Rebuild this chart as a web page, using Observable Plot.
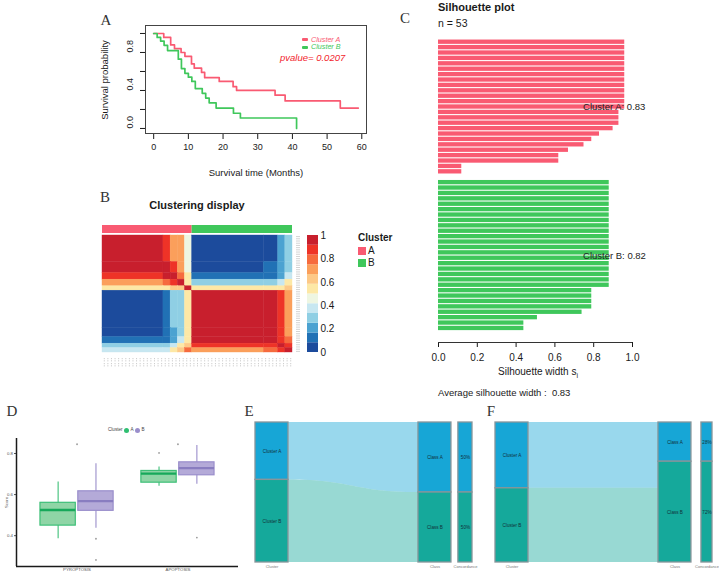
<!DOCTYPE html>
<html><head><meta charset="utf-8">
<script src="https://cdn.jsdelivr.net/npm/d3@7"></script>
<script src="https://cdn.jsdelivr.net/npm/@observablehq/plot@0.6"></script>
<style>
body{margin:0;background:#fff;}
#root{position:relative;width:719px;height:573px;overflow:hidden;background:#fff;font-family:"Liberation Sans",Arial,sans-serif;}
.t{position:absolute;white-space:pre;line-height:1;}
</style></head><body><div id="root"></div>
<script>
// ---------------- DATA ----------------
// Panel A: Kaplan-Meier survival
const survTimeA = [0, 2.9, 4.9, 6, 7.9, 9, 10.9, 11.7, 13.8, 14.7, 18.9, 22.9, 23.9, 35, 37.9, 53.8, 59];
const survProbA = [1, 0.958, 0.88, 0.84, 0.80, 0.76, 0.68, 0.635, 0.59, 0.535, 0.495, 0.44, 0.40, 0.35, 0.29, 0.215, 0.215];
const survTimeB = [0, 1, 2, 3, 4, 7.1, 8, 9, 10, 11, 12, 14, 15, 16, 18, 23, 25, 41.2];
const survProbB = [1, 0.958, 0.92, 0.875, 0.82, 0.73, 0.63, 0.58, 0.54, 0.495, 0.42, 0.37, 0.32, 0.27, 0.215, 0.16, 0.11, 0];
const survXTicks = [0, 10, 20, 30, 40, 50, 60];
const survYTicks = [0, 0.2, 0.4, 0.6, 0.8, 1];
const survYLabels = [0, 0.4, 0.8];
const pValue = "0.0207";

// Panel B: consensus heatmap (block structure)
const nSamples = 53;
const clusterSizes = [25, 28];
const hmColBreaks = [0, 17, 19, 21, 23, 25, 45, 49, 51, 53];
const hmRowBreaks = [0, 12, 17, 20, 23, 25, 42, 46, 49, 51, 53];
const hmBlockClass = [
  [11, 10, 8, 8, 5, 0, 0, 2, 3],
  [11, 11, 10, 8, 5, 0, 1, 2, 3],
  [10, 11, 11, 9, 6, 1, 1, 2, 4],
  [8, 9, 10, 11, 6, 3, 3, 4, 6],
  [6, 6, 7, 7, 11, 6, 6, 6, 7],
  [0, 1, 3, 3, 6, 11, 11, 10, 8],
  [0, 1, 2, 3, 6, 11, 11, 10, 8],
  [1, 1, 2, 4, 6, 11, 11, 10, 9],
  [3, 3, 4, 6, 7, 10, 10, 11, 10],
  [4, 4, 6, 7, 9, 8, 9, 10, 11]
];
const hmPalette = ["#1c4b9c","#2171b5","#4ba2d1","#8fcfe4","#c7e7f1","#eef6e2","#fde8a6","#fdc987","#fb9f5b","#f66b3e","#ee3327","#c81f2d"];
const colorbarTicks = [0, 0.2, 0.4, 0.6, 0.8, 1];

// Panel C: silhouette widths
const silA = [0.96,0.96,0.96,0.96,0.96,0.96,0.96,0.96,0.96,0.96,0.96,0.96,0.96,0.93,0.93,0.93,0.90,0.83,0.79,0.75,0.67,0.62,0.62,0.12,0.12];
const silB = [0.88,0.88,0.88,0.88,0.88,0.88,0.88,0.88,0.88,0.88,0.88,0.88,0.88,0.88,0.88,0.88,0.88,0.88,0.88,0.88,0.79,0.79,0.79,0.79,0.74,0.51,0.44,0.44];
const silClusterAvg = [0.83, 0.82];
const silOverall = "0.83";
const silXTicks = [0, 0.2, 0.4, 0.6, 0.8, 1];

// Panel D: boxplot summaries
const boxCategories = ["PYROPTOSIS", "APOPTOSIS"];
const boxCluster = ["A", "B", "A", "B"];
const boxCategory = ["PYROPTOSIS", "PYROPTOSIS", "APOPTOSIS", "APOPTOSIS"];
const boxLo  = [0.385, 0.436, 0.640, 0.650];
const boxQ1  = [0.449, 0.521, 0.658, 0.694];
const boxMed = [0.525, 0.568, 0.702, 0.729];
const boxQ3  = [0.560, 0.616, 0.715, 0.757];
const boxHi  = [0.661, 0.750, 0.734, 0.839];
const outCategory = ["PYROPTOSIS", "PYROPTOSIS", "APOPTOSIS", "APOPTOSIS", "PYROPTOSIS", "APOPTOSIS"];
const outCluster  = ["B", "B", "A", "B", null, null];
const outValue    = [0.385, 0.282, 0.803, 0.391, 0.845, 0.845];
const boxYTicks = [0.4, 0.6, 0.8];

// Panels E/F: alluvial
const alluvialAxes = ["Cluster", "Class", "Concordance"];
const eClusterPct = [41, 59], eClassPct = [50, 50], eFlowRightPct = [50, 50], eConcordLabels = ["50%", "50%"];
const fClusterPct = [47, 53], fClassPct = [28, 72], fFlowRightPct = [47, 53], fConcordLabels = ["28%", "72%"];

// ---------------- STYLE / LAYOUT ----------------
const W = 719, H = 573;
const FONT = '"Liberation Sans", Arial, Helvetica, sans-serif';
const SERIF = '"Liberation Serif", "Times New Roman", serif';
const RED = "#f95a72", GREEN = "#3fc75b";
const root = document.getElementById("root");

function overlay([x0, y0, x1, y1], opts) {
  const {style = {}, ...rest} = opts;
  const svg = Plot.plot({
    width: W, height: H,
    marginLeft: x0, marginTop: y0, marginRight: W - x1, marginBottom: H - y1,
    ...rest,
    style: Object.assign({background: "transparent", overflow: "visible", fontFamily: FONT, fontSize: "9px", color: "#1a1a1a"}, style)
  });
  svg.style.position = "absolute"; svg.style.left = "0px"; svg.style.top = "0px";
  root.appendChild(svg);
}
function txt(s, x, y, o = {}) {
  const d = document.createElement("div");
  d.className = "t";
  if (o.html) d.innerHTML = s; else d.textContent = s;
  const ax = o.anchor === "middle" ? "-50%" : o.anchor === "end" ? "-100%" : "0";
  Object.assign(d.style, {
    left: x + "px", top: y + "px", fontSize: (o.size || 10) + "px",
    fontFamily: o.font || FONT, fontWeight: o.bold ? "bold" : "normal",
    fontStyle: o.italic ? "italic" : "normal", color: o.color || "#1a1a1a",
    transform: `translate(${ax}, -50%)` + (o.rotate ? ` rotate(${o.rotate}deg)` : "")
  });
  root.appendChild(d);
  return d;
}
function swatch(x, y, w, h, color, radius = 0) {
  const d = document.createElement("div");
  Object.assign(d.style, {position: "absolute", left: x + "px", top: y + "px", width: w + "px", height: h + "px", background: color, borderRadius: radius + "px"});
  root.appendChild(d);
}

// ---------------- PANEL A ----------------
const survData = [
  ...survTimeA.map((t, i) => ({cluster: "A", t, s: survProbA[i]})),
  ...survTimeB.map((t, i) => ({cluster: "B", t, s: survProbB[i]}))
];
overlay([145, 25, 366, 133], {
  x: {domain: [-2.36, 61.36], ticks: survXTicks, tickSize: 6, tickPadding: 4, label: null},
  y: {domain: [-0.053, 1.084], ticks: survYTicks, tickSize: 5, tickFormat: () => "", label: null},
  color: {domain: ["A", "B"], range: [RED, GREEN]},
  marks: [
    Plot.frame({stroke: "#444"}),
    Plot.line(survData, {x: "t", y: "s", z: "cluster", stroke: "cluster", curve: "step-after", strokeWidth: 1.7}),
    Plot.text(survYLabels, {y: d => d, text: d => d.toFixed(1), frameAnchor: "left", dx: -15, rotate: -90, fontSize: 9})
  ]
});
txt("A", 106, 20, {font: SERIF, size: 15, anchor: "middle", color: "#333"});
txt("Survival probability", 105, 80, {size: 9.5, anchor: "middle", rotate: -90});
txt("Survival time (Months)", 256, 173, {size: 9.5, anchor: "middle"});
swatch(302, 38, 6, 3, RED, 1);
swatch(302, 45.5, 6, 3, GREEN, 1);
txt("Cluster A", 311, 39.5, {size: 7.2, italic: true, color: RED});
txt("Cluster B", 311, 47, {size: 7.2, italic: true, color: GREEN});
txt("pvalue= " + pValue, 280, 58, {size: 9.5, italic: true, color: "#f2242c"});

// ---------------- PANEL B ----------------
let acc = 0;
const annot = clusterSizes.map((n, i) => ({start: acc, end: (acc += n), cluster: ["A", "B"][i]}));
overlay([102, 225, 292, 233], {
  x: {domain: [0, nSamples], axis: null},
  y: {domain: ["Cluster"], padding: 0, axis: null},
  color: {domain: ["A", "B"], range: [RED, GREEN]},
  marks: [Plot.barX(annot, {x1: "start", x2: "end", y: () => "Cluster", fill: "cluster"})]
});
const cells = [];
for (let r = 0; r < hmRowBreaks.length - 1; r++)
  for (let c = 0; c < hmColBreaks.length - 1; c++)
    cells.push({x1: hmColBreaks[c], x2: hmColBreaks[c + 1], y1: hmRowBreaks[r], y2: hmRowBreaks[r + 1], cls: hmBlockClass[r][c]});
overlay([102, 235, 292, 352], {
  x: {domain: [0, nSamples], axis: null},
  y: {domain: [0, nSamples], reverse: true, axis: null},
  color: {type: "ordinal", domain: d3.range(hmPalette.length), range: hmPalette},
  marks: [Plot.rect(cells, {x1: "x1", x2: "x2", y1: "y1", y2: "y2", fill: "cls", stroke: "cls", strokeWidth: 0.4})]
});
const sampleCenters = d3.range(nSamples).map(i => i + 0.5);
overlay([296, 235, 300, 352], {
  y: {domain: [0, nSamples], reverse: true, axis: null},
  marks: [Plot.tickY(sampleCenters, {y: d => d, stroke: "#b5b5b5", strokeWidth: 0.6})]
});
const colMarks = sampleCenters.flatMap(p => [{pos: p, row: "1"}, {pos: p, row: "2"}]);
overlay([102, 357, 292, 368], {
  x: {domain: [0, nSamples], axis: null},
  y: {domain: ["1", "2"], padding: 0.2, axis: null},
  marks: [Plot.tickX(colMarks, {x: "pos", y: "row", stroke: "#9a9a9a", strokeWidth: 0.5, strokeDasharray: "1,0.8"})]
});
const bins = d3.range(hmPalette.length).map(i => ({lo: i / hmPalette.length, hi: (i + 1) / hmPalette.length, cls: i}));
overlay([307, 235, 318, 352], {
  y: {domain: [0, 1], ticks: colorbarTicks, tickFormat: d => (d === 0 || d === 1) ? String(d) : d.toFixed(1), tickSize: 0, tickPadding: 2, axis: "right", label: null},
  color: {type: "ordinal", domain: d3.range(hmPalette.length), range: hmPalette},
  style: {fontSize: "10px"},
  marks: [Plot.rect(bins, {y1: "lo", y2: "hi", fill: "cls"})]
});
txt("B", 105, 197, {font: SERIF, size: 15, anchor: "middle", color: "#333"});
txt("Clustering display", 197, 205, {size: 11, bold: true, anchor: "middle"});
txt("Cluster", 358, 238, {size: 10, bold: true});
swatch(358, 247, 8, 8, RED);
swatch(358, 259, 8, 8, GREEN);
txt("A", 368, 251, {size: 10});
txt("B", 368, 263, {size: 10});

// ---------------- PANEL C ----------------
const silData = [
  ...silA.map((w, i) => ({cluster: "A", width: w, slot: i})),
  ...silB.map((w, i) => ({cluster: "B", width: w, slot: silA.length + 1 + i}))
];
const SIL_Y_MAX = 56.1;
const silLabels = [
  {text: "Cluster A: " + silClusterAvg[0], slot: silA.length / 2},
  {text: "Cluster B: " + silClusterAvg[1], slot: silA.length + 1 + silB.length / 2}
];
overlay([438, 39, 632, 342], {
  x: {domain: [0, 1], ticks: silXTicks, tickFormat: d => d.toFixed(1), tickSize: 5, tickPadding: 6, label: null},
  y: {domain: [0, SIL_Y_MAX], reverse: true, axis: null},
  color: {domain: ["A", "B"], range: [RED, GREEN]},
  style: {fontSize: "10px"},
  marks: [
    Plot.rect(silData, {x1: () => 0, x2: "width", y1: d => d.slot + 0.1, y2: d => d.slot + 0.9, fill: "cluster"}),
    Plot.ruleY([SIL_Y_MAX], {stroke: "#333"}),
    Plot.text(silLabels, {x: () => 0.745, y: "slot", text: "text", textAnchor: "start", fontSize: 9.5, fill: "#222"})
  ]
});
txt("C", 405, 18, {font: SERIF, size: 15, anchor: "middle", color: "#333"});
txt("Silhouette plot", 438, 7, {size: 11, bold: true});
txt("n = " + nSamples, 438, 23, {size: 10.5});
txt("Silhouette width s<sub style='font-size:7px'>i</sub>", 538, 373, {size: 10, anchor: "middle", html: true});
txt("Average silhouette width :  " + silOverall, 438, 393, {size: 9.5});

// ---------------- PANEL D ----------------
const boxFill = {A: "#8fd5a6", B: "#b4aad8"}, boxStroke = {A: "#3dbf77", B: "#9a8ecb"}, boxMedian = {A: "#17a85a", B: "#897dc0"};
const DODGE = 0.1875, HALF = 0.175;
const catPos = c => boxCategories.indexOf(c) + 1;
const clPos = (c, k) => catPos(c) + (k === "A" ? -DODGE : k === "B" ? DODGE : 0);
const boxes = boxCluster.map((k, i) => ({cluster: k, category: boxCategory[i], lo: boxLo[i], q1: boxQ1[i], med: boxMed[i], q3: boxQ3[i], hi: boxHi[i]}));
const outliers = outValue.map((v, i) => ({value: v, category: outCategory[i], cluster: outCluster[i]}));
const BOX_Y = [0.25, 0.873], BOX_X = [0.4, 2.6];
overlay([16, 438, 238, 566], {
  x: {domain: BOX_X, ticks: [1, 2], tickFormat: i => boxCategories[i - 1], tickSize: 1.2, tickPadding: 0, label: null},
  y: {domain: BOX_Y, ticks: boxYTicks, tickFormat: d => d.toFixed(1), tickSize: 2, tickPadding: 1.5, label: "Score", labelAnchor: "center", labelOffset: 12, labelArrow: "none"},
  color: {type: "identity"},
  style: {fontSize: "4.3px", color: "#555"},
  marks: [
    Plot.ruleX(boxes, {x: d => clPos(d.category, d.cluster), y1: "lo", y2: "hi", stroke: d => boxStroke[d.cluster], strokeWidth: 1.1}),
    Plot.rect(boxes, {x1: d => clPos(d.category, d.cluster) - HALF, x2: d => clPos(d.category, d.cluster) + HALF, y1: "q1", y2: "q3", fill: d => boxFill[d.cluster], stroke: d => boxStroke[d.cluster], strokeWidth: 1.2}),
    Plot.ruleY(boxes, {y: "med", x1: d => clPos(d.category, d.cluster) - HALF, x2: d => clPos(d.category, d.cluster) + HALF, stroke: d => boxMedian[d.cluster], strokeWidth: 2.4}),
    Plot.dot(outliers, {x: d => clPos(d.category, d.cluster), y: "value", r: 0.9, fill: "#9a9a9a"}),
    Plot.ruleX([BOX_X[0]], {stroke: "#1a1a1a", strokeWidth: 1.5}),
    Plot.ruleY([BOX_Y[0]], {stroke: "#1a1a1a", strokeWidth: 1.5})
  ]
});
txt("D", 12, 411, {font: SERIF, size: 15, anchor: "middle", color: "#333"});
txt("Cluster", 108, 430, {size: 4.6, color: "#444"});
swatch(124, 427.5, 5, 5, "#2fbf71", 2.5);
txt("A", 130.5, 430, {size: 4.6, color: "#444"});
swatch(135, 427.5, 5, 5, "#9a8ecb", 2.5);
txt("B", 141.5, 430, {size: 4.6, color: "#444"});

// ---------------- PANELS E / F ----------------
const strataColors = ["#17a6d6", "#15a99b"];
function alluvial(frame, clusterPct, classPct, flowRight, concordLabels, strataX) {
  const cum = a => { let s = 0; return a.map(v => [s, (s += v)]); };
  const cl = cum(clusterPct), ca = cum(classPct), fr = cum(flowRight);
  const keys = ["A", "B"];
  const strata = [
    ...cl.map(([lo, hi], i) => ({axis: "Cluster", key: keys[i], lo, hi, label: "Cluster " + keys[i]})),
    ...ca.map(([lo, hi], i) => ({axis: "Class", key: keys[i], lo, hi, label: "Class " + keys[i]})),
    ...ca.map(([lo, hi], i) => ({axis: "Concordance", key: keys[i], lo, hi, label: concordLabels[i]}))
  ];
  const flows = cl.flatMap(([lo, hi], i) => [
    {flow: keys[i], x: strataX.Cluster[1], y1: lo, y2: hi},
    {flow: keys[i], x: strataX.Class[0], y1: fr[i][0], y2: fr[i][1]}
  ]);
  const mid = a => (strataX[a][0] + strataX[a][1]) / 2;
  overlay(frame, {
    x: {domain: [0, 1], axis: null},
    y: {domain: [0, 100], reverse: true, axis: null},
    color: {domain: keys, range: strataColors},
    style: {fontSize: "4.4px"},
    marks: [
      Plot.area(flows, {x1: "x", y1: "y1", y2: "y2", z: "flow", fill: "flow", fillOpacity: 0.44, curve: "bump-x"}),
      Plot.rect(strata, {x1: d => strataX[d.axis][0], x2: d => strataX[d.axis][1], y1: "lo", y2: "hi", fill: "key", stroke: "#87959a", strokeWidth: 1.3}),
      Plot.text(strata, {x: d => mid(d.axis), y: d => (d.lo + d.hi) / 2, text: "label", fill: "#12323a", fontSize: 4.6}),
      Plot.text(alluvialAxes, {x: d => mid(d), frameAnchor: "bottom", dy: 5.5, text: d => d, fill: "#777", fontSize: 4.0})
    ]
  });
}
alluvial([255, 422, 472, 562], eClusterPct, eClassPct, eFlowRightPct, eConcordLabels,
  {Cluster: [0, 0.152], Class: [0.751, 0.903], Concordance: [0.935, 1]});
alluvial([495, 422, 712, 562], fClusterPct, fClassPct, fFlowRightPct, fConcordLabels,
  {Cluster: [0, 0.152], Class: [0.751, 0.903], Concordance: [0.949, 1]});
txt("E", 249, 411, {font: SERIF, size: 15, anchor: "middle", color: "#333"});
txt("F", 491, 411, {font: SERIF, size: 15, anchor: "middle", color: "#333"});
</script></body></html>
